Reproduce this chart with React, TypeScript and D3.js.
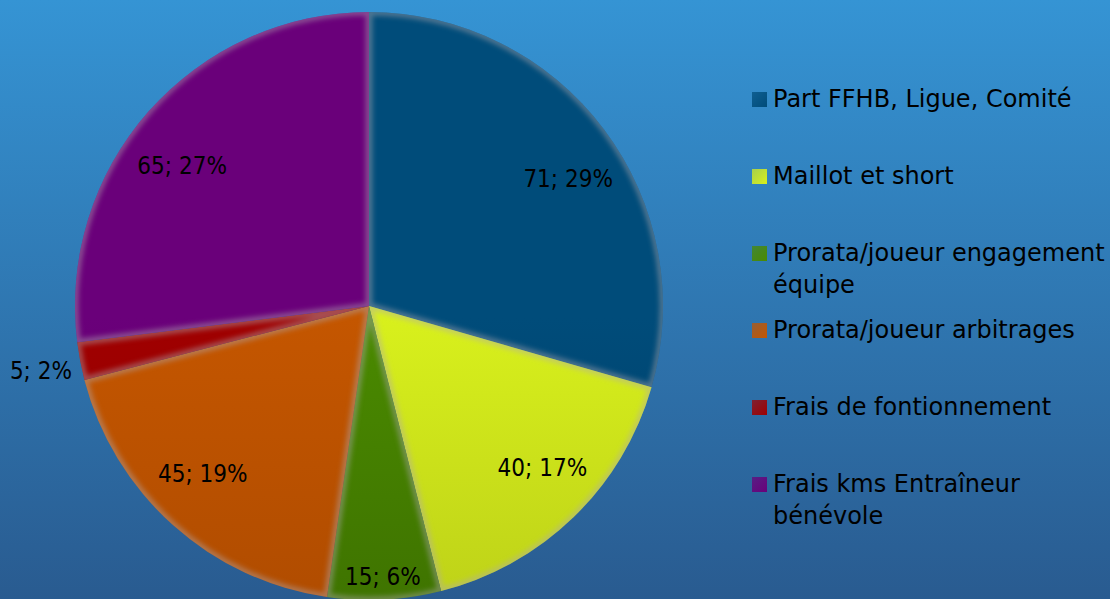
import React from "react";
import * as d3 from "d3";

const categories = [
  "Part FFHB, Ligue, Comité",
  "Maillot et short",
  "Prorata/joueur engagement équipe",
  "Prorata/joueur arbitrages",
  "Frais de fontionnement",
  "Frais kms Entraîneur bénévole",
];
const values = [71, 40, 15, 45, 5, 65];
const legendLines = [
  ["Part FFHB, Ligue, Comité"],
  ["Maillot et short"],
  ["Prorata/joueur engagement", "équipe"],
  ["Prorata/joueur arbitrages"],
  ["Frais de fontionnement"],
  ["Frais kms Entraîneur", "bénévole"],
];
const topColors = ["#004c7a", "#d8f01c", "#4a8a00", "#c45600", "#a00000", "#6a007a"];
const bottomColors = ["#002e52", "#a2b214", "#335c00", "#9c4200", "#7e0000", "#4a0052"];

const W = 1110;
const H = 599;
const LABEL_FONT = "'DejaVu Sans Condensed', 'DejaVu Sans', sans-serif";
const LEGEND_FONT = "'DejaVu Sans', sans-serif";

export default function App() {
  const cx = 369;
  const cy = 306;
  const R = 294;
  const total = d3.sum(values);
  const pie = d3.pie<number>().sort(null).value((d) => d);
  const arcs = pie(values);
  const arc = d3.arc<d3.PieArcDatum<number>>().innerRadius(0).outerRadius(R);

  const labelPos = (a: d3.PieArcDatum<number>): [number, number] => {
    const frac = a.value / total;
    let r = R * 0.8;
    let sx = 1.06;
    let sy = 0.93;
    if (frac < 0.03) {
      r = R + 40;
      sx = 1;
      sy = 0.95;
    } else if (frac < 0.1) {
      r = R * 0.905;
      sx = 1;
      sy = 1;
    }
    const [x, y] = d3.arc<d3.PieArcDatum<number>>().innerRadius(r).outerRadius(r).centroid(a);
    return [cx + x * sx, cy + 5 + y * sy];
  };

  const legendY = d3.scalePoint<number>().domain(d3.range(categories.length)).range([99, 484]);

  return (
    <svg width={W} height={H} style={{ position: "absolute", left: 0, top: 0 }}>
      <defs>
        <linearGradient id="bg" x1="0" y1="0" x2="0" y2="1">
          <stop offset="0" stopColor="#3594d4" />
          <stop offset="1" stopColor="#295b90" />
        </linearGradient>
        {arcs.map((a, i) => (
          <linearGradient
            key={i}
            id={`g${i}`}
            gradientUnits="userSpaceOnUse"
            x1={0}
            y1={cy - R}
            x2={0}
            y2={cy + R}
          >
            <stop offset="0" stopColor={topColors[i]} />
            <stop offset="1" stopColor={bottomColors[i]} />
          </linearGradient>
        ))}
        {arcs.map((a, i) => (
          <linearGradient key={`lgg${i}`} id={`lg${i}`} x1="0" y1="0" x2="1" y2="1">
            <stop offset="0" stopColor={topColors[i]} stopOpacity={0.7} />
            <stop offset="1" stopColor={topColors[i]} />
          </linearGradient>
        ))}
        {arcs.map((a, i) => (
          <clipPath key={`c${i}`} id={`clip${i}`}>
            <path d={arc(a) || ""} transform={`translate(${cx},${cy})`} />
          </clipPath>
        ))}
        <filter id="blur" x="-10%" y="-10%" width="120%" height="120%">
          <feGaussianBlur stdDeviation="2.5" />
        </filter>
      </defs>
      <rect x={0} y={0} width={W} height={H} fill="url(#bg)" />
      {arcs.map((a, i) => (
        <g key={i}>
          <path d={arc(a) || ""} transform={`translate(${cx},${cy})`} fill={`url(#g${i})`} />
          <g clipPath={`url(#clip${i})`}>
            <path
              d={arc(a) || ""}
              transform={`translate(${cx},${cy})`}
              fill="none"
              stroke="#b0a8b0"
              strokeOpacity={0.45}
              strokeWidth={7}
              filter="url(#blur)"
            />
          </g>
        </g>
      ))}
      {arcs.map((a, i) => {
        const [x, y] = labelPos(a);
        const pct = Math.round((a.value / total) * 100);
        return (
          <text
            key={`l${i}`}
            x={x}
            y={y}
            textAnchor="middle"
            dominantBaseline="central"
            fontFamily={LABEL_FONT}
            fontSize={24}
            fill="#000"
          >
            {`${a.value}; ${pct}%`}
          </text>
        );
      })}
      {legendLines.map((lines, i) => {
        const y0 = legendY(i) || 0;
        return (
          <g key={`lg${i}`}>
            <rect x={752} y={y0 - 7} width={15} height={15} fill={`url(#lg${i})`} />
            {lines.map((t, j) => (
              <text
                key={j}
                x={773}
                y={y0 + j * 32}
                dominantBaseline="central"
                fontFamily={LEGEND_FONT}
                fontSize={24}
                fill="#000"
              >
                {t}
              </text>
            ))}
          </g>
        );
      })}
    </svg>
  );
}
